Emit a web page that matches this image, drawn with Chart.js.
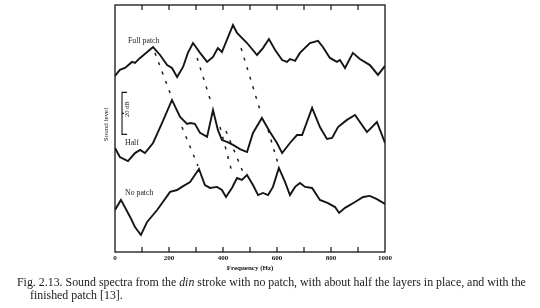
<!DOCTYPE html>
<html><head><meta charset="utf-8">
<script src="https://cdn.jsdelivr.net/npm/chart.js@4.4.0/dist/chart.umd.min.js"></script>
<style>
html,body{margin:0;padding:0;background:#fff;}
#wrap{position:relative;width:540px;height:308px;overflow:hidden;font-family:"Liberation Serif","DejaVu Serif",serif;color:#1a1a1a;}
canvas{position:absolute;left:0;top:0;}
.lbl{position:absolute;font-size:7.8px;white-space:nowrap;line-height:1;}
.rot{position:absolute;white-space:nowrap;transform:rotate(-90deg);transform-origin:center center;line-height:1;}
.cap{position:absolute;font-size:11.9px;line-height:13px;white-space:nowrap;}
</style></head>
<body><div id="wrap"><canvas id="c" width="540" height="308" style="width:540px;height:308px"></canvas>
<div class="lbl" style="left:128px;top:37px">Full patch</div>
<div class="lbl" style="left:125px;top:139px">Half</div>
<div class="lbl" style="left:125px;top:189px">No patch</div>
<div class="rot" style="left:87px;top:121px;font-size:7px;width:38px;text-align:center">Sound level</div>
<div class="rot" style="left:115px;top:106px;font-size:6.5px;width:24px;text-align:center">20 dB</div>
<div class="cap" style="left:17px;top:276px">Fig. 2.13. Sound spectra from the <i>din</i> stroke with no patch, with about half the layers in place, and with the</div>
<div class="cap" style="left:30px;top:289px">finished patch [13].</div>
</div>
<script>
// Frequency (Hz) and level (dB, relative)
const fullFreq = [0,18,37,63,74,93,141,167,193,211,230,252,270,289,315,341,363,381,396,419,437,452,489,526,548,570,593,619,637,648,667,685,722,752,770,796,822,833,852,881,907,944,974,1000];
const fullLevel = [83.8,86.7,87.6,90.5,90.0,92.4,97.6,93.8,89.0,87.6,83.3,88.1,94.8,99.5,94.8,90.5,92.9,97.1,95.2,102.4,108.1,104.3,99.5,93.8,97.1,101.4,96.2,91.4,90.5,91.9,91.0,94.8,99.5,100.5,97.6,92.4,90.5,91.4,87.6,94.8,91.9,89.0,84.3,88.6];

const halfFreq = [0,18,48,74,93,111,141,174,211,241,267,278,296,315,341,363,381,396,415,437,463,489,511,544,574,600,619,648,674,693,730,759,785,804,826,859,889,933,970,1000];
const halfLevel = [49.5,45.2,43.3,47.1,48.6,47.1,51.9,61.4,72.4,64.3,61.0,61.4,61.0,56.7,54.8,67.6,58.1,53.3,52.4,51.0,49.0,47.6,56.7,63.8,57.1,51.9,47.1,51.9,55.7,55.7,68.6,59.5,53.8,54.3,59.5,62.9,65.2,57.1,61.9,51.9];

const noFreq = [0,22,56,74,96,119,156,204,230,248,278,311,333,352,378,396,411,433,452,470,489,511,530,548,567,585,607,630,648,667,685,704,730,759,789,815,830,852,889,919,944,970,1000];
const noLevel = [20.0,24.8,16.7,11.9,8.1,14.3,20.0,28.6,29.5,31.0,33.3,39.5,31.9,30.5,31.0,29.5,26.2,30.5,35.2,34.3,36.7,31.9,27.1,28.1,27.1,31.0,40.0,33.3,27.1,31.0,32.9,31.0,30.5,24.8,23.3,21.4,18.6,21.0,23.8,26.2,26.7,25.2,22.9];

// dashed guides linking corresponding peaks: [freq, level] pairs
const guideA = [[148,94.8],[204,75.7]];
const guideB = [[304,92.4],[359,70.0]];
const guideC = [[467,97.1],[537,67.6]];
const guideD = [[248,59.5],[307,41.0]];
const guideE = [[389,59.5],[433,38.1]];
const guideF = [[411,57.6],[474,38.1]];
const guideG = [[567,58.1],[604,41.9]];

const xTicks = [0,200,400,600,800,1000];
const scaleBarDb = 20;

function pts(f, l){ return f.map((v,i)=>({x:v,y:l[i]})); }
function gpts(g){ return g.map(p=>({x:p[0],y:p[1]})); }

const ink = '#151515';
const curve = (d)=>({data:d,borderColor:ink,borderWidth:1.9,pointRadius:0,tension:0,fill:false});
const guide = (d)=>({data:gpts(d),borderColor:'#222',borderWidth:1.5,borderDash:[3,7],pointRadius:0,tension:0,fill:false});

const framePlugin = {
  id:'frame',
  afterDraw(chart){
    const {ctx, chartArea:a, scales:{x,y}} = chart;
    ctx.save();
    ctx.strokeStyle = ink; ctx.lineWidth = 1.3;
    ctx.strokeRect(a.left, a.top, a.right-a.left, a.bottom-a.top);
    ctx.lineWidth = 1.2;
    for(let f=100; f<1000; f+=100){
      const px = x.getPixelForValue(f);
      ctx.beginPath();
      ctx.moveTo(px,a.bottom); ctx.lineTo(px,a.bottom-5);
      ctx.moveTo(px,a.top); ctx.lineTo(px,a.top+5);
      ctx.stroke();
    }
    // 20 dB scale bar
    const bx = x.getPixelForValue(26);
    const yb = y.getPixelForValue(56), yt = y.getPixelForValue(56+scaleBarDb);
    ctx.lineWidth = 1.1;
    ctx.beginPath();
    ctx.moveTo(bx+5,yt); ctx.lineTo(bx,yt); ctx.lineTo(bx,yb); ctx.lineTo(bx+5,yb);
    const ym = y.getPixelForValue(56+scaleBarDb/2);
    ctx.moveTo(bx,ym); ctx.lineTo(bx+2,ym);
    ctx.stroke();
    ctx.restore();
  }
};

new Chart(document.getElementById('c'), {
  type:'line',
  data:{datasets:[
    curve(pts(fullFreq,fullLevel)),
    curve(pts(halfFreq,halfLevel)),
    curve(pts(noFreq,noLevel)),
    guide(guideA),guide(guideB),guide(guideC),guide(guideD),guide(guideE),guide(guideF),guide(guideG)
  ]},
  options:{
    responsive:false, animation:false,
    layout:{padding:{left:115,right:155,top:5,bottom:36}},
    plugins:{legend:{display:false},tooltip:{enabled:false}},
    scales:{
      x:{type:'linear',min:0,max:1000,
        afterFit(s){ s.height = 20; },
        afterBuildTicks(s){ s.ticks = xTicks.map(v=>({value:v})); },
        grid:{display:false,drawTicks:false},
        border:{display:false},
        ticks:{padding:2,color:ink,font:{family:'"Liberation Serif", serif',size:7,weight:'bold'},maxRotation:0,autoSkip:false,
          callback:(v)=>String(v)},
        title:{display:true,text:'Frequency (Hz)',color:ink,padding:{top:0,bottom:0},font:{family:'"Liberation Serif", serif',size:7,weight:'bold'}}
      },
      y:{type:'linear',min:0,max:117.6,
        afterFit(s){ s.width = 0; },
        grid:{display:false,drawTicks:false},
        border:{display:false},
        ticks:{display:false}
      }
    }
  },
  plugins:[framePlugin]
});
</script>
</body></html>
